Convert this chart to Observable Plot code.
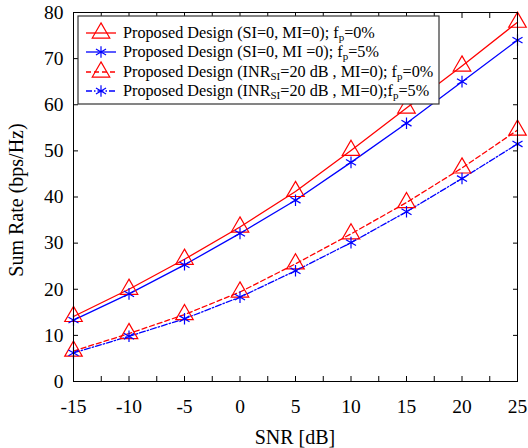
<!DOCTYPE html>
<html>
<head>
<meta charset="utf-8">
<script src="https://cdn.jsdelivr.net/npm/d3@7"></script>
<script src="https://cdn.jsdelivr.net/npm/@observablehq/plot@0.6"></script>
<style>
  html, body { margin: 0; padding: 0; background: white; }
  #chart { position: relative; width: 528px; height: 448px; }
</style>
</head>
<body>
<div id="chart"></div>
<script>
const snr = [-15, -10, -5, 0, 5, 10, 15, 20, 25];
const rateSI0fp0 = [14.1, 20.0, 26.5, 33.5, 41.2, 50.1, 59.3, 68.4, 77.9];
const rateSI0fp5 = [13.3, 19.0, 25.3, 32.1, 39.3, 47.5, 56.0, 65.0, 74.0];
const rateINR20fp0 = [6.6, 10.4, 14.5, 19.4, 25.5, 32.0, 38.8, 46.3, 54.5];
const rateINR20fp5 = [6.2, 9.8, 13.6, 18.3, 24.0, 30.1, 36.8, 44.0, 51.5];

const xTicks = [-15, -10, -5, 0, 5, 10, 15, 20, 25];
const xMinorTicks = [-15, -12.5, -10, -7.5, -5, -2.5, 0, 2.5, 5, 7.5, 10, 12.5, 15, 17.5, 20, 22.5, 25];
const yTicks = [0, 10, 20, 30, 40, 50, 60, 70, 80];

const seriesNames = ["SI0fp0", "SI0fp5", "INR20fp0", "INR20fp5"];
const seriesValues = [rateSI0fp0, rateSI0fp5, rateINR20fp0, rateINR20fp5];
const seriesColors = ["#ff0000", "#0000ff", "#ff0000", "#0000ff"];
const seriesDash = [null, null, "5,3", "6,2,1.5,2"];
const seriesSymbols = ["triangle", "asterisk", "triangle", "asterisk"];
const legendMain = [
  ["Proposed Design (SI=0, MI=0); f", "p", "=0%"],
  ["Proposed Design (SI=0, MI =0); f", "p", "=5%"],
  ["Proposed Design (INR", "SI", "=20 dB , MI=0); f", "p", "=0%"],
  ["Proposed Design (INR", "SI", "=20 dB , MI=0);f", "p", "=5%"]
];

const data = [];
seriesNames.forEach((name, i) => {
  snr.forEach((x, j) => data.push({series: name, idx: i, snr: x, rate: seriesValues[i][j]}));
});

const font = "'Liberation Serif', 'DejaVu Serif', serif";

const lineMarks = seriesNames.map((name, i) =>
  Plot.line(data.filter(d => d.series === name), {
    x: "snr", y: "rate", stroke: seriesColors[i], strokeWidth: 1.3,
    strokeDasharray: seriesDash[i] || undefined
  })
);
const dotMarks = seriesNames.map((name, i) =>
  Plot.dot(data.filter(d => d.series === name), {
    x: "snr", y: "rate", stroke: seriesColors[i], fill: "none",
    symbol: seriesSymbols[i], r: seriesSymbols[i] === "triangle" ? 6.5 : 5.5, strokeWidth: 1.2
  })
);

const chart = Plot.plot({
  width: 528,
  height: 448,
  marginLeft: 73,
  marginRight: 11,
  marginTop: 12,
  marginBottom: 67,
  x: {domain: [-15, 25]},
  y: {domain: [0, 80]},
  style: {fontFamily: font, fontSize: "16px", color: "black", background: "white"},
  marks: [
    Plot.axisX({ticks: xTicks, tickSize: 0, tickPadding: 18, label: null, fontSize: 19.5, tickFormat: d => String(d)}),
    Plot.axisY({ticks: yTicks, tickSize: 0, tickPadding: 10, label: null, fontSize: 19.5, tickFormat: d => String(d)}),
    Plot.axisX({ticks: xMinorTicks, anchor: "bottom", tickSize: -5, tickFormat: () => "", label: null}),
    Plot.axisX({ticks: xMinorTicks, anchor: "top", tickSize: -5, tickFormat: () => "", label: null}),
    Plot.axisY({ticks: yTicks, anchor: "left", tickSize: -5, tickFormat: () => "", label: null}),
    Plot.axisY({ticks: yTicks, anchor: "right", tickSize: -5, tickFormat: () => "", label: null}),
    ...lineMarks,
    ...dotMarks,
    Plot.frame({stroke: "black", strokeWidth: 1})
  ]
});

const svg = d3.select(chart);
// axis titles
svg.append("text")
  .attr("x", 295).attr("y", 444)
  .attr("text-anchor", "middle")
  .attr("font-family", font).attr("font-size", 20)
  .text("SNR [dB]");
svg.append("text")
  .attr("transform", "translate(23,200) rotate(-90)")
  .attr("text-anchor", "middle")
  .attr("font-family", font).attr("font-size", 20)
  .text("Sum Rate (bps/Hz)");

// legend
const lg = svg.append("g").attr("text-anchor", "start");
lg.append("rect")
  .attr("x", 78).attr("y", 16).attr("width", 361).attr("height", 88)
  .attr("fill", "white").attr("stroke", "#333").attr("stroke-width", 1.2);
const rowY = [33, 52, 72, 91];
const sym = {triangle: d3.symbolTriangle, asterisk: d3.symbolAsterisk};
seriesNames.forEach((name, i) => {
  const y = rowY[i];
  lg.append("line")
    .attr("x1", 86).attr("x2", 116).attr("y1", y).attr("y2", y)
    .attr("stroke", seriesColors[i]).attr("stroke-width", 1.3)
    .attr("stroke-dasharray", seriesDash[i]);
  const r = seriesSymbols[i] === "triangle" ? 6.5 : 5.5;
  lg.append("path")
    .attr("transform", `translate(101,${y})`)
    .attr("d", d3.symbol(sym[seriesSymbols[i]], Math.PI * r * r)())
    .attr("fill", "none").attr("stroke", seriesColors[i]).attr("stroke-width", 1.2);
  const t = lg.append("text")
    .attr("x", 123).attr("y", y + 5)
    .attr("text-anchor", "start")
    .attr("font-family", font).attr("font-size", 16.2);
  const parts = legendMain[i];
  parts.forEach((p, k) => {
    const isSub = k % 2 === 1;
    t.append("tspan")
      .attr("font-size", isSub ? 11 : 16.2)
      .attr("dy", k === 0 ? 0 : (isSub ? 3 : -3))
      .text(p);
  });
});

document.getElementById("chart").appendChild(chart);
</script>
</body>
</html>
